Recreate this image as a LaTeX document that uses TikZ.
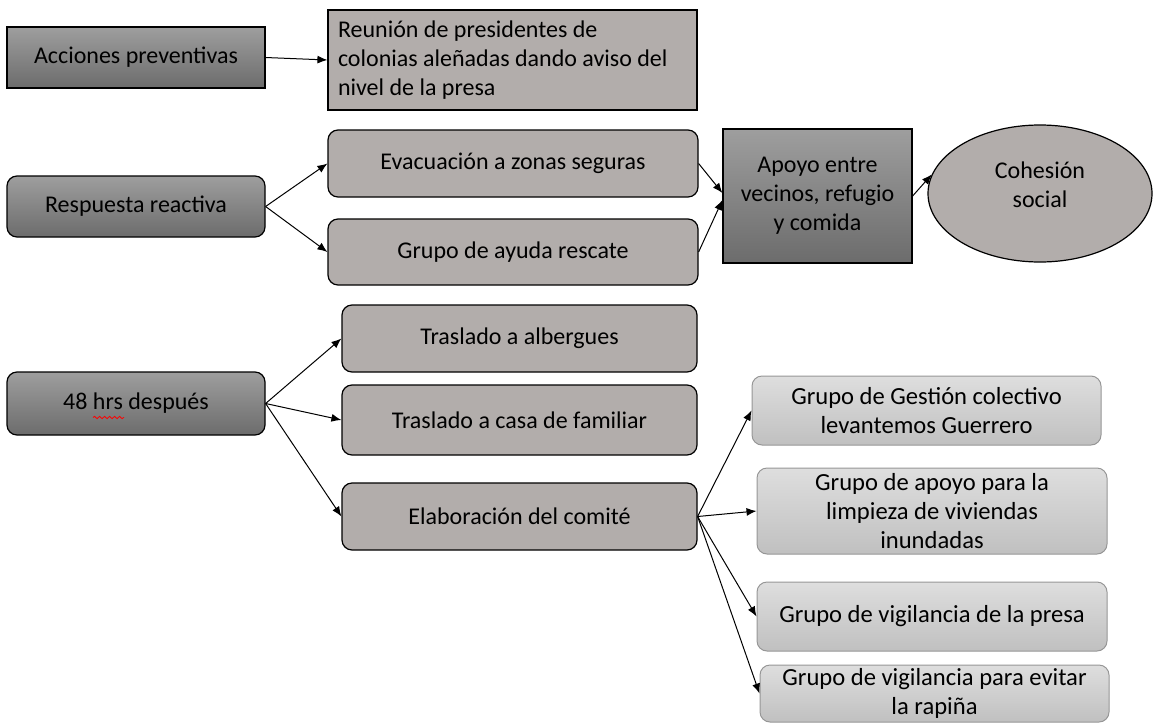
\documentclass[tikz,border=0pt]{standalone}
\usepackage{fontspec}
\setmainfont{Carlito}
\usetikzlibrary{arrows.meta,calc,shapes.geometric,decorations.pathmorphing}
\definecolor{darktop}{RGB}{158,158,158}
\definecolor{darkbot}{RGB}{108,108,108}
\definecolor{midgray}{RGB}{178,173,171}
\definecolor{lighttop}{RGB}{222,222,222}
\definecolor{lightbot}{RGB}{192,192,192}
\definecolor{lightedge}{RGB}{150,150,150}

\begin{document}
\begin{tikzpicture}[x=0.5pt,y=-0.5pt,>={Latex[length=5pt,width=4pt]},
    font=\fontsize{12}{14.5}\selectfont,
    every node/.style={align=center,inner sep=0pt},
    darkbox/.style={draw=black,line width=0.6pt,top color=darktop,bottom color=darkbot},
    midbox/.style={draw=black,line width=0.6pt,fill=midgray,rounded corners=5pt},
    lightbox/.style={draw=lightedge,line width=0.5pt,top color=lighttop,bottom color=lightbot,rounded corners=5pt},
    arr/.style={->,line width=0.5pt}]
  \useasboundingbox (0,0) rectangle (1156,723);
  % first row
  \node[darkbox,minimum width=129pt,minimum height=30.5pt] (acc) at (136,57.5) {Acciones preventivas};
  \node[midbox,rounded corners=0pt,align=flush left,text width=174.5pt,inner xsep=5pt,minimum height=50pt] (reu) at (512.5,60)
    {Reunión de presidentes de\\colonias aleñadas dando aviso del\\nivel de la presa};
  \draw[arr] (acc.east) -- (reu.west);
  % second row
  \node[darkbox,rounded corners=5pt,minimum width=129pt,minimum height=30.5pt] (resp) at (136,206.5) {Respuesta reactiva};
  \node[midbox,minimum width=185pt,minimum height=33.5pt] (evac) at (513,163.5) {Evacuación a zonas seguras};
  \node[midbox,minimum width=185pt,minimum height=33pt] (resc) at (513,252) {Grupo de ayuda rescate};
  \node[darkbox,minimum width=94.5pt,minimum height=67pt] (apoyo) at (817.5,196) {Apoyo entre\\vecinos, refugio\\y comida};
  \node[ellipse,draw=black,line width=0.6pt,fill=midgray,minimum width=112pt,minimum height=68.5pt] (cohe) at (1040,193.5)
    {Cohesión\\social\\[-5.5pt]};
  \draw[arr] (resp.east) -- (evac.west);
  \draw[arr] (resp.east) -- (resc.west);
  \draw[arr] (evac.east) -- ($(apoyo.west)+(0,-3)$);
  \draw[arr] (resc.east) -- ($(apoyo.west)+(0,4)$);
  \draw[arr] (apoyo.east) -- (cohe.170);
  % third row
  \node[darkbox,rounded corners=5pt,minimum width=129pt,minimum height=31.5pt] (hrs) at (136,403.5) {48 hrs después};
  \draw[red,line width=0.4pt,decorate,decoration={snake,amplitude=0.6pt,segment length=2.5pt}]
    ($(hrs.center)+(-43,14)$) -- ($(hrs.center)+(-12,14)$);
  \node[midbox,minimum width=177.5pt,minimum height=33.5pt] (alb) at (519.5,338.5) {Traslado a albergues};
  \node[midbox,minimum width=177.5pt,minimum height=35pt] (casa) at (519.5,420) {Traslado a casa de familiar};
  \node[midbox,minimum width=177.5pt,minimum height=33.5pt] (comi) at (519.5,516.5) {Elaboración del comité};
  \draw[arr] (hrs.east) -- (alb.west);
  \draw[arr] (hrs.east) -- (casa.west);
  \draw[arr] (hrs.east) -- (comi.west);
  % groups of the committee
  \begin{scope}[font=\fontsize{12.3}{14.5}\selectfont]
  \node[lightbox,minimum width=174.5pt,minimum height=34.5pt] (gest) at (926.5,410.5) {Grupo de Gestión colectivo\\levantemos Guerrero};
  \node[lightbox,minimum width=175pt,minimum height=43pt] (limp) at (932,511) {Grupo de apoyo para la\\limpieza de viviendas\\inundadas};
  \node[lightbox,minimum width=175pt,minimum height=34.5pt] (pres) at (932,616.5) {Grupo de vigilancia de la presa};
  \node[lightbox,minimum width=174.5pt,minimum height=28.5pt] (rap) at (934.5,693.5) {Grupo de vigilancia para evitar\\la rapiña};
  \end{scope}
  \foreach \g in {gest,limp,pres,rap}
    \draw[arr] (comi.east) -- (\g.west);
\end{tikzpicture}
\end{document}
